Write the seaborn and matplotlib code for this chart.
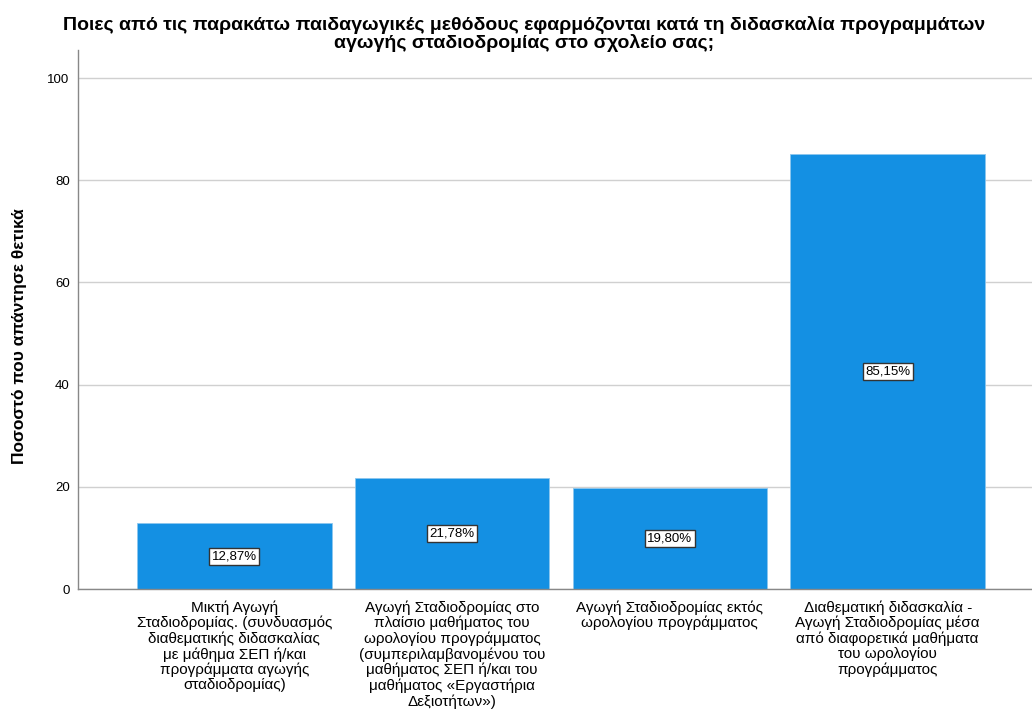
import matplotlib
matplotlib.use("Agg")
import matplotlib.pyplot as plt
import seaborn as sns
import pandas as pd

categories = [
    "Μικτή Αγωγή\nΣταδιοδρομίας. (συνδυασμός\nδιαθεματικής διδασκαλίας\nμε μάθημα ΣΕΠ ή/και\nπρογράμματα αγωγής\nσταδιοδρομίας)",
    "Αγωγή Σταδιοδρομίας στο\nπλαίσιο μαθήματος του\nωρολογίου προγράμματος\n(συμπεριλαμβανομένου του\nμαθήματος ΣΕΠ ή/και του\nμαθήματος «Εργαστήρια\nΔεξιοτήτων»)",
    "Αγωγή Σταδιοδρομίας εκτός\nωρολογίου προγράμματος",
    "Διαθεματική διδασκαλία -\nΑγωγή Σταδιοδρομίας μέσα\nαπό διαφορετικά μαθήματα\nτου ωρολογίου\nπρογράμματος",
]
values = [12.87, 21.78, 19.80, 85.15]
yticks = [0, 20, 40, 60, 80, 100]

title = ("Ποιες από τις παρακάτω παιδαγωγικές μεθόδους εφαρμόζονται κατά τη διδασκαλία προγραμμάτων\n"
         "αγωγής σταδιοδρομίας στο σχολείο σας;")
ylabel = "Ποσοστό που απάντησε θετικά"

df = pd.DataFrame({"category": categories, "value": values})

sns.set_style("white")
plt.rcParams["font.family"] = ["Liberation Sans", "DejaVu Sans"]

fig = plt.figure(figsize=(10.32, 7.14), dpi=100)
ax = fig.add_axes([0.0756, 0.175, 0.9244, 0.755])

sns.barplot(data=df, x="category", y="value", color="#1490e3", saturation=1,
            width=0.894, edgecolor="#8cc6ee", linewidth=0.6, ax=ax, zorder=2)

ax.set_xlim(-0.718, 3.663)
ax.set_ylim(0, 105.5)
ax.set_yticks(yticks)
ax.set_yticklabels([str(t) for t in yticks], fontsize=9.5, color="black")
ax.yaxis.grid(True, color="#d0d0d0", linewidth=1.0, zorder=0)
ax.set_axisbelow(True)
ax.tick_params(axis="y", length=0, pad=6)
ax.tick_params(axis="x", length=0, pad=8)
ax.set_xticks(range(len(categories)))
ax.set_xticklabels(categories, fontsize=11, color="black", linespacing=1.1)

for side in ["top", "right"]:
    ax.spines[side].set_visible(False)
for side in ["left", "bottom"]:
    ax.spines[side].set_color("#888888")
    ax.spines[side].set_linewidth(1.0)

ax.set_xlabel("")
ax.set_ylabel(ylabel, fontsize=12.5, fontweight="bold", color="black")
ax.yaxis.set_label_coords(-0.054, 0.469)

for i, v in enumerate(values):
    ax.text(i, v / 2, f"{v:.2f}%".replace(".", ","), ha="center", va="center",
            fontsize=9.5, color="black", zorder=4,
            bbox=dict(boxstyle="square,pad=0.18", facecolor="white",
                      edgecolor="#333333", linewidth=1.0))

fig.suptitle(title, fontsize=14, fontweight="bold", color="black",
             x=0.508, y=0.978, va="top", linespacing=1.0)

fig.savefig("out.png", dpi=100)
